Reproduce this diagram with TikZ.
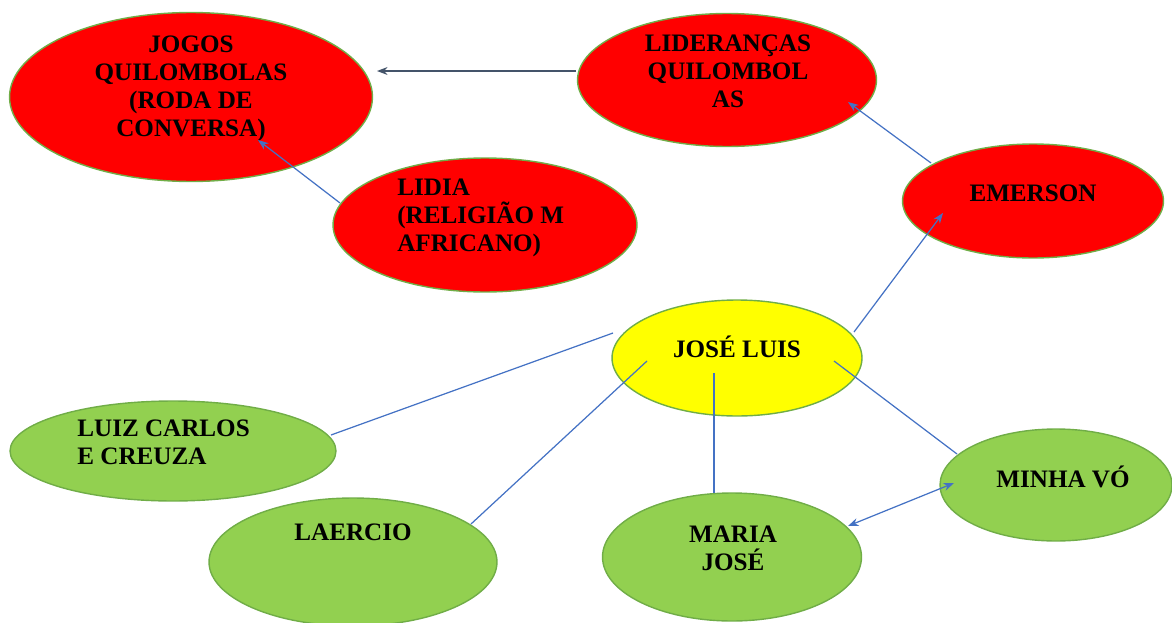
\documentclass[tikz,border=0pt]{standalone}
\usepackage{fontspec}
\setmainfont{Liberation Serif}
\usetikzlibrary{arrows.meta,shapes.geometric}
\definecolor{edgegreen}{HTML}{70AD47}
\definecolor{fillred}{HTML}{FF0000}
\definecolor{fillyellow}{HTML}{FFFF00}
\definecolor{fillgreen}{HTML}{92D050}
\definecolor{linkblue}{HTML}{4472C4}
\definecolor{linkdark}{HTML}{44546A}
\tikzset{
    bubble/.style = {ellipse, draw=edgegreen, line width=0.8pt, inner sep=0pt},
    red-bubble/.style = {bubble, fill=fillred},
    yellow-bubble/.style = {bubble, fill=fillyellow},
    green-bubble/.style = {bubble, fill=fillgreen},
    bubble-text/.style = {font=\bfseries\fontsize{14.3}{15.9}\selectfont, inner sep=0pt},
    link/.style = {draw=linkblue, line width=0.7pt},
    link-arrow/.style = {link, -{Stealth[length=6pt,width=4.5pt]}},
    link-dark/.style = {draw=linkdark, line width=0.7pt, -{Stealth[length=6pt,width=4.5pt]}},
}

\begin{document}
\begin{tikzpicture}[x=0.02cm, y=-0.02cm]
\useasboundingbox (0,0) rectangle (1172,622);
\node[red-bubble, minimum width=7.26cm, minimum height=3.38cm] (jogos) at (191,97) {};
\node[red-bubble, minimum width=5.98cm, minimum height=2.66cm] (lider) at (727,80) {};
\node[red-bubble, minimum width=5.22cm, minimum height=2.28cm] (emerson) at (1033,201) {};
\node[red-bubble, minimum width=6.08cm, minimum height=2.68cm] (lidia) at (485,225) {};
\node[yellow-bubble, minimum width=5.0cm, minimum height=2.32cm] (jose) at (737,358) {};
\node[green-bubble, minimum width=6.52cm, minimum height=2.0cm] (luiz) at (173,451) {};
\node[green-bubble, minimum width=5.76cm, minimum height=2.56cm] (laercio) at (353,562) {};
\node[green-bubble, minimum width=5.18cm, minimum height=2.56cm] (maria) at (732,557) {};
\node[green-bubble, minimum width=4.64cm, minimum height=2.24cm] (minha) at (1056,485) {};

\node[bubble-text, align=center] (jogos-text) at (191,89) {JOGOS\\QUILOMBOLAS\\(RODA DE\\CONVERSA)};
\node[bubble-text, align=center] (lider-text) at (728,71) {LIDERANÇAS\\QUILOMBOL\\AS};
\node[bubble-text] (emerson-text) at (1033,193) {EMERSON};
\node[bubble-text, align=left, anchor=west] (lidia-text) at (397,218) {LIDIA\\(RELIGIÃO M\\AFRICANO)};
\node[bubble-text] (jose-text) at (737,347) {JOSÉ LUIS};
\node[bubble-text, align=left, anchor=west] (luiz-text) at (77,442) {LUIZ CARLOS\\E CREUZA};
\node[bubble-text] (laercio-text) at (353,532) {LAERCIO};
\node[bubble-text, align=center] (maria-text) at (733,548) {MARIA\\JOSÉ};
\node[bubble-text] (minha-text) at (1063,477) {MINHA VÓ};

\draw[link-dark] ([shift={(-151,-9)}]lider.center) -- ([shift={(186,-26)}]jogos.center);
\draw[link-arrow] ([shift={(-145,-22)}]lidia.center) -- ([shift={(67,43)}]jogos.center);
\draw[link-arrow] ([shift={(-102,-38)}]emerson.center) -- ([shift={(121,22)}]lider.center);
\draw[link-arrow] ([shift={(117,-26)}]jose.center) -- ([shift={(-90,12)}]emerson.center);
\draw[link] ([shift={(-124,-25)}]jose.center) -- ([shift={(158,-16)}]luiz.center);
\draw[link] ([shift={(-90,3)}]jose.center) -- ([shift={(118,-38)}]laercio.center);
\draw[link] ([shift={(-23,15)}]jose.center) -- ([shift={(-18,-64)}]maria.center);
\draw[link] ([shift={(97,3)}]jose.center) -- ([shift={(-99,-31)}]minha.center);
\draw[link, {Stealth[length=6pt,width=4.5pt]}-{Stealth[length=6pt,width=4.5pt]}] ([shift={(-102,-2)}]minha.center) -- ([shift={(116,-31)}]maria.center);
\end{tikzpicture}
\end{document}
